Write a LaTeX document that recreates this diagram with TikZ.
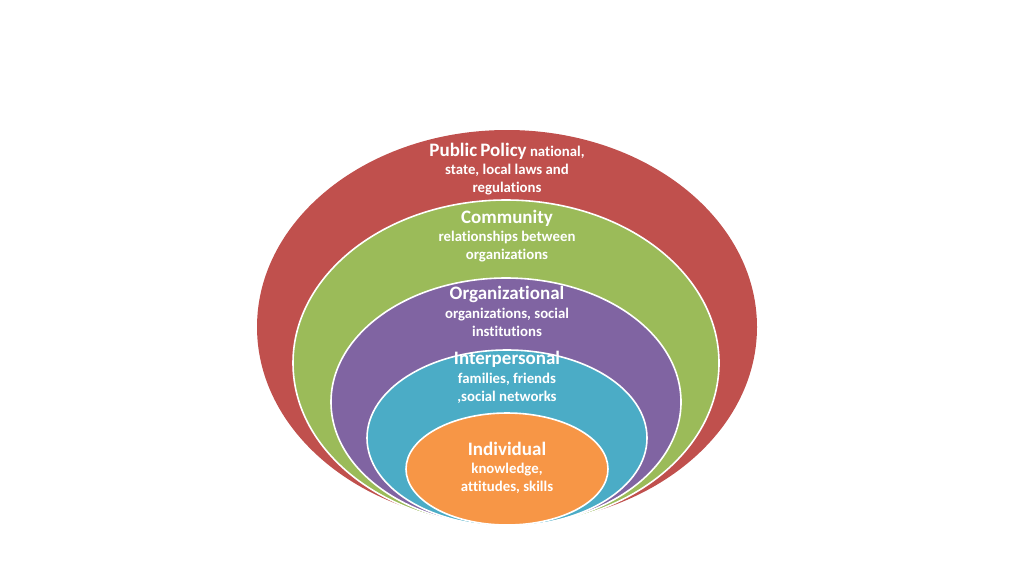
\documentclass[tikz,border=0pt]{standalone}
\usepackage{fontspec}
\setmainfont{Carlito}[Ligatures=NoCommon]
\definecolor{cred}{HTML}{C0504D}
\definecolor{cgreen}{HTML}{9BBB59}
\definecolor{cpurple}{HTML}{8064A2}
\definecolor{cteal}{HTML}{4BACC6}
\definecolor{corange}{HTML}{F79646}
\tikzset{
  ring/.style={draw=white, line width=1.6pt},
  ttl/.style={text=white, font=\bfseries\fontsize{19}{20}\selectfont, inner sep=0pt},
  dsc/.style={text=white, font=\bfseries\fontsize{14.8}{18}\selectfont, align=center, inner sep=0pt},
}
\begin{document}
\begin{tikzpicture}[x=1pt,y=-1pt]
\useasboundingbox (0,0) rectangle (1024,576);
\fill[cred] (507,327) ellipse [x radius=250, y radius=197];
\fill[cgreen,ring] (506,363) ellipse [x radius=213, y radius=163];
\fill[cpurple,ring] (506,402) ellipse [x radius=175, y radius=124];
\fill[cteal,ring] (507,438) ellipse [x radius=140, y radius=88];
\fill[corange,ring] (507,469) ellipse [x radius=101, y radius=56];

\node[dsc] (pp) at (507,169) {{\fontsize{19}{18}\selectfont Public\,Policy} national,\\ state, local laws and\\ regulations};
\node[ttl] (com) at (507,218) {Community};
\node[dsc] (comd) at (507,247) {relationships between\\ organizations};
\node[ttl] (org) at (507,294) {Organizational};
\node[dsc] (orgd) at (507,322.5) {organizations, social\\ institutions};
\node[ttl] (int) at (507,359) {Interpersonal};
\node[dsc] (intd) at (507,388) {families, friends\\ ,social networks};
\node[ttl] (ind) at (507,449) {Individual};
\node[dsc] (indd) at (507,478) {knowledge,\\ attitudes, skills};
\end{tikzpicture}
\end{document}
